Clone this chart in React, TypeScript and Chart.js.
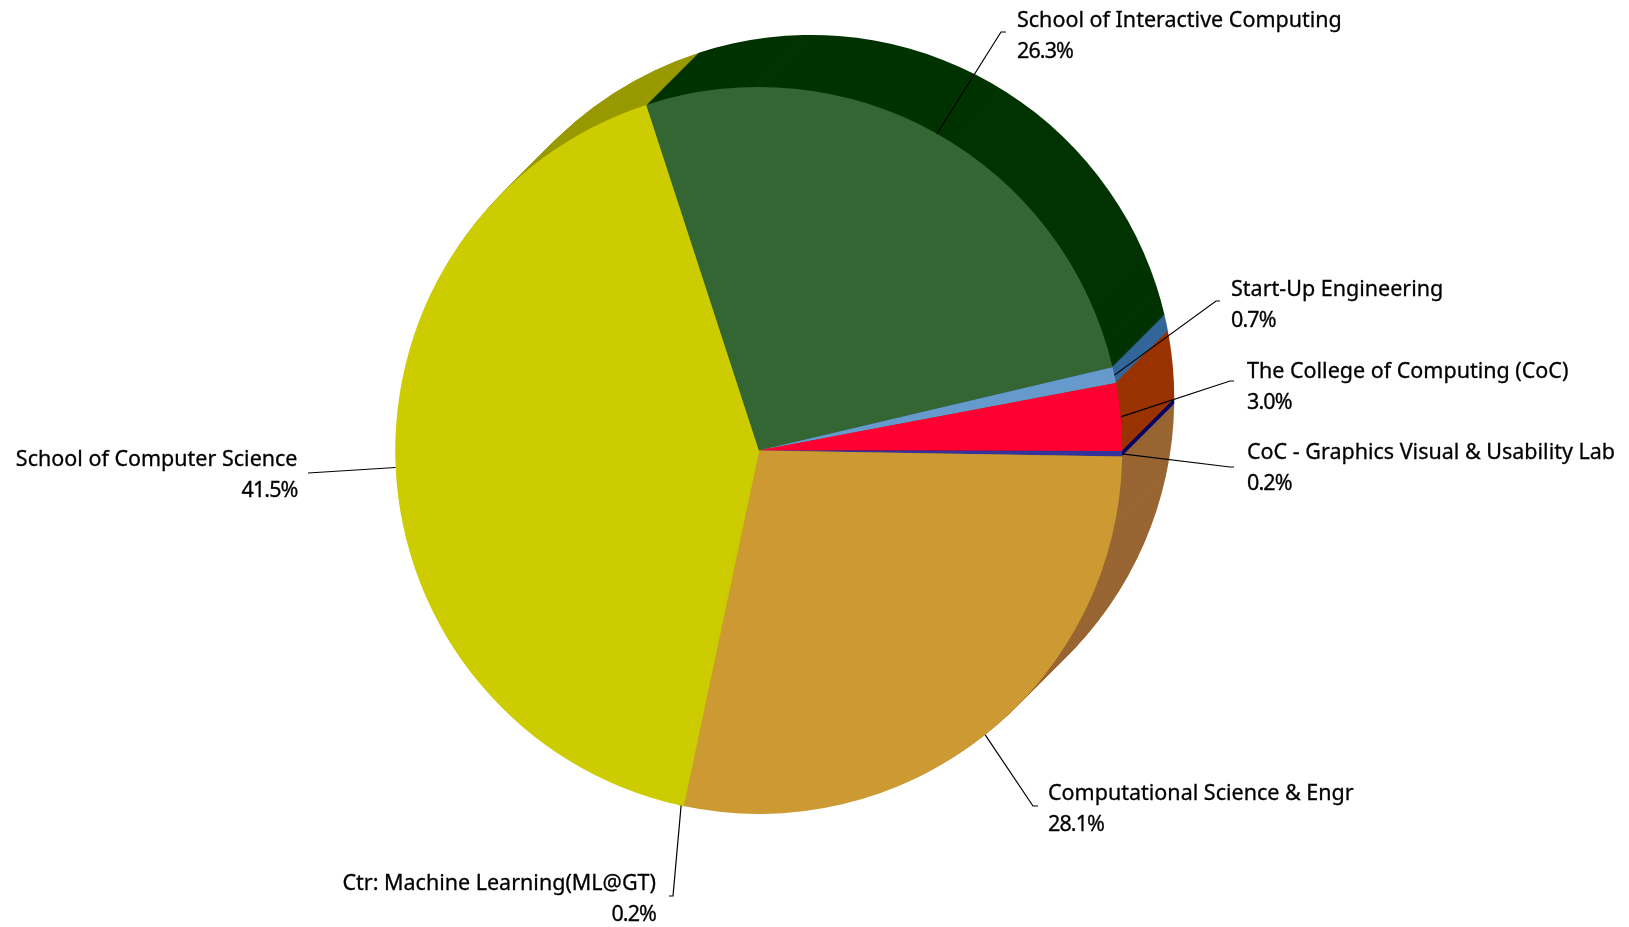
import React, { useEffect, useRef } from "react";
import { Chart, registerables } from "chart.js";

Chart.register(...registerables);

const categories = [
  "School of Interactive Computing",
  "Start-Up Engineering",
  "The College of Computing (CoC)",
  "CoC - Graphics Visual & Usability Lab",
  "Computational Science & Engr",
  "Ctr: Machine Learning(ML@GT)",
  "School of Computer Science",
];
const shares = [26.34, 0.7, 3.0, 0.24, 28.06, 0.2, 41.46];
const faceColors = ["#336633", "#6699CC", "#FF0033", "#333399", "#CC9933", "#CCCC00", "#CCCC00"];
const depthColors = ["#003300", "#336699", "#993300", "#000066", "#996633", "#999900", "#999900"];
const seamWidths = [0, 0, 0, 0, 0, 1, 0];

const WIDTH = 1629;
const HEIGHT = 927;
const DEPTH = 52;
const FONT = '21.5px "Noto Sans"';
const LINE_GAP = 31;

type Callout = { textX: number; textY: number; align: CanvasTextAlign; elbowX: number; elbowY: number; tailX: number };
const callouts: Callout[] = [
  { textX: 1017, textY: 21, align: "left", elbowX: 1001, elbowY: 32, tailX: 1006 },
  { textX: 1231, textY: 290, align: "left", elbowX: 1216, elbowY: 301, tailX: 1220 },
  { textX: 1247, textY: 372, align: "left", elbowX: 1230, elbowY: 381, tailX: 1234 },
  { textX: 1247, textY: 453, align: "left", elbowX: 1230, elbowY: 467, tailX: 1234 },
  { textX: 1048, textY: 794, align: "left", elbowX: 1033, elbowY: 806, tailX: 1038 },
  { textX: 656, textY: 884, align: "right", elbowX: 673, elbowY: 896, tailX: 669 },
  { textX: 297.5, textY: 460, align: "right", elbowX: 308, elbowY: 473, tailX: 308 },
];

const depthPlugin = {
  id: "depthSweep",
  beforeDatasetsDraw(chart: any) {
    const { ctx } = chart;
    const arcs = chart.getDatasetMeta(0).data;
    ctx.save();
    for (let k = DEPTH; k >= 1; k--) {
      arcs.forEach((arc: any, i: number) => {
        const { x, y, outerRadius, startAngle, endAngle } = arc.getProps(
          ["x", "y", "outerRadius", "startAngle", "endAngle"],
          true
        );
        ctx.beginPath();
        ctx.moveTo(x + k, y - k);
        ctx.arc(x + k, y - k, outerRadius, startAngle, endAngle);
        ctx.closePath();
        ctx.fillStyle = depthColors[i];
        ctx.fill();
      });
    }
    ctx.restore();
  },
};

const calloutPlugin = {
  id: "callouts",
  afterDatasetsDraw(chart: any) {
    const { ctx } = chart;
    const arcs = chart.getDatasetMeta(0).data;
    ctx.save();
    ctx.strokeStyle = "#000000";
    ctx.fillStyle = "#000000";
    ctx.font = FONT;
    ctx.textBaseline = "middle";
    arcs.forEach((arc: any, i: number) => {
      const { x, y, outerRadius, startAngle, endAngle } = arc.getProps(
        ["x", "y", "outerRadius", "startAngle", "endAngle"],
        true
      );
      const mid = (startAngle + endAngle) / 2;
      const c = callouts[i];
      ctx.lineWidth = 1.2;
      ctx.beginPath();
      ctx.moveTo(x + outerRadius * Math.cos(mid), y + outerRadius * Math.sin(mid));
      ctx.lineTo(c.elbowX, c.elbowY);
      ctx.lineTo(c.tailX, c.elbowY);
      ctx.stroke();
      ctx.textAlign = c.align;
      ctx.lineWidth = 0.3;
      ctx.letterSpacing = "0px";
      ctx.fillText(categories[i], c.textX, c.textY);
      ctx.strokeText(categories[i], c.textX, c.textY);
      ctx.letterSpacing = "-0.9px";
      const pct = shares[i].toFixed(1) + "%";
      ctx.fillText(pct, c.textX, c.textY + LINE_GAP);
      ctx.strokeText(pct, c.textX, c.textY + LINE_GAP);
    });
    ctx.restore();
  },
};

export default function App() {
  const ref = useRef<HTMLCanvasElement>(null);
  useEffect(() => {
    if (!ref.current) return;
    const chart = new Chart(ref.current, {
      type: "pie",
      data: {
        labels: categories,
        datasets: [
          {
            data: shares,
            backgroundColor: faceColors,
            borderColor: faceColors,
            borderWidth: seamWidths,
            hoverOffset: 0,
            offset: 0,
          },
        ],
      },
      options: {
        responsive: false,
        animation: false,
        rotation: -18.05,
        layout: { padding: { left: 394.5, right: 506, top: 86.5, bottom: 112.5 } },
        plugins: { legend: { display: false }, tooltip: { enabled: false } },
      },
      plugins: [depthPlugin, calloutPlugin],
    } as any);
    return () => chart.destroy();
  }, []);
  return (
    <div style={{ position: "absolute", left: 0, top: 0, width: WIDTH, height: HEIGHT, background: "#fff" }}>
      <canvas ref={ref} width={WIDTH} height={HEIGHT} style={{ display: "block" }} />
    </div>
  );
}
